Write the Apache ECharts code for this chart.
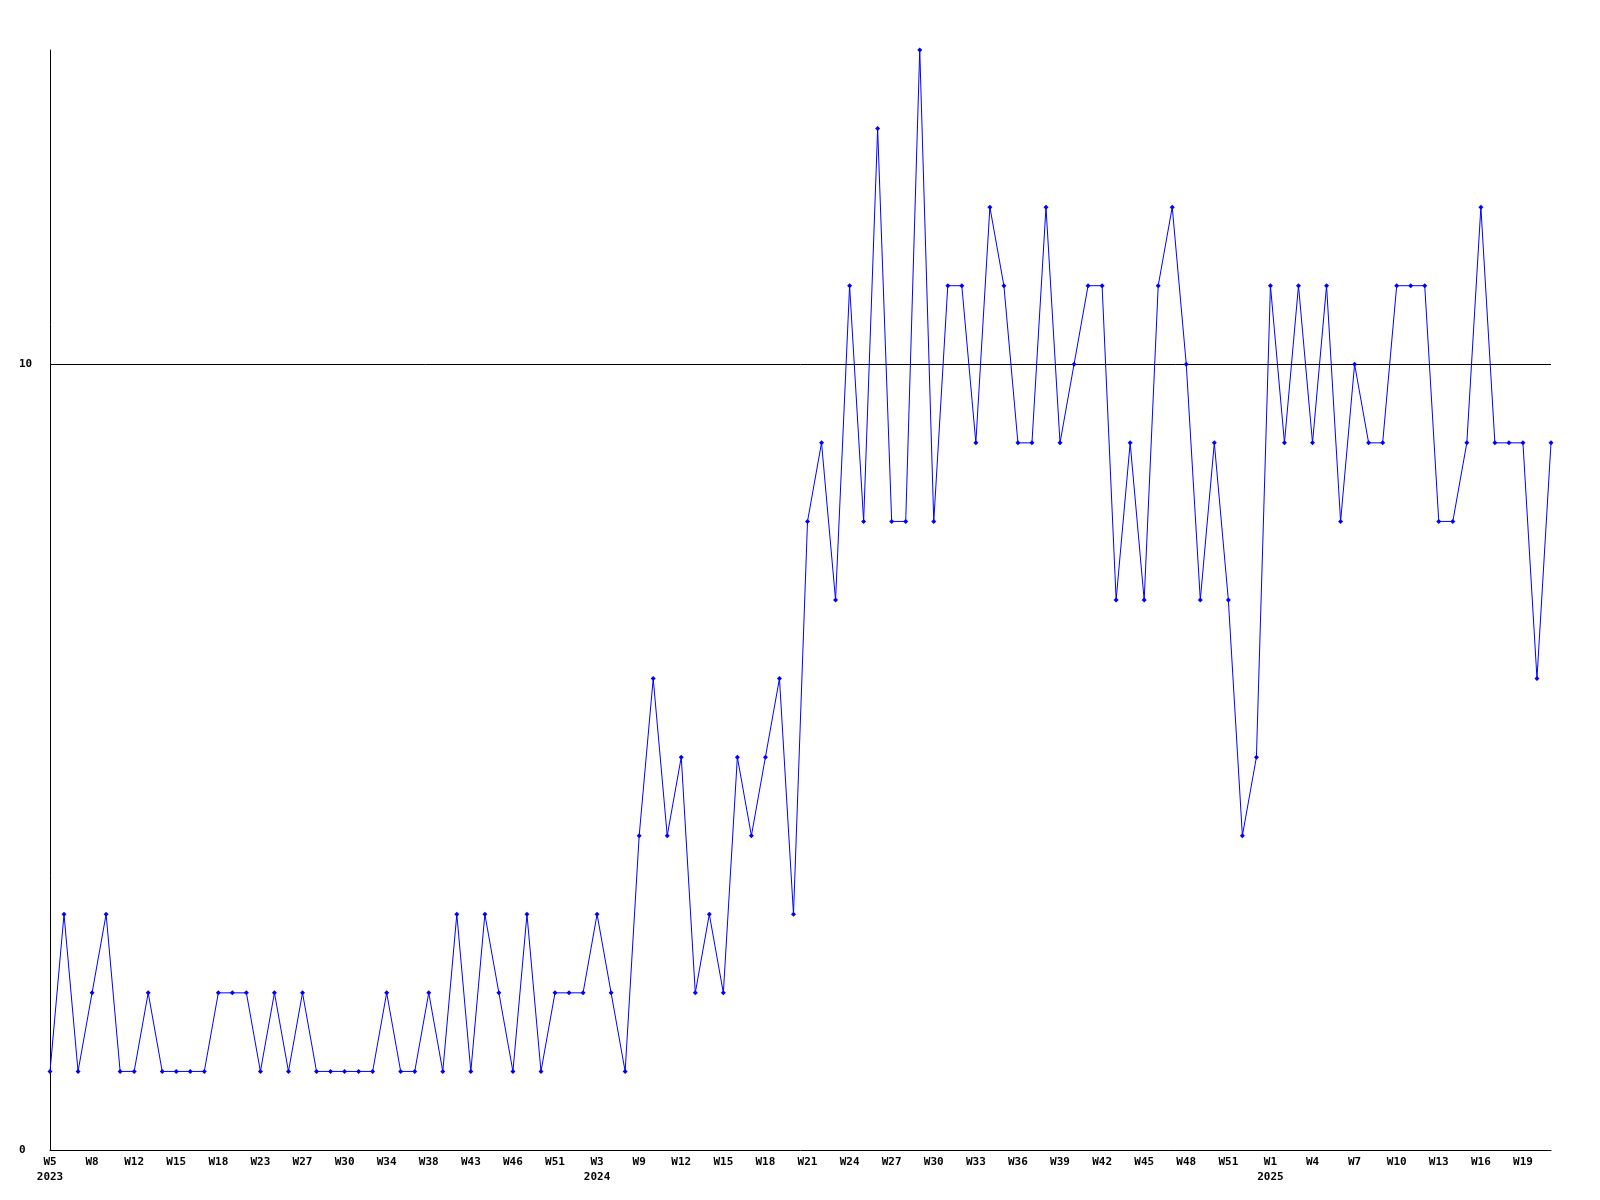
<!DOCTYPE html>
<html>
<head>
<meta charset="utf-8">
<script src="https://cdn.jsdelivr.net/npm/echarts@6/dist/echarts.min.js"></script>
<style>
html,body{margin:0;padding:0;background:#fff;}
#chart{width:1600px;height:1200px;}
</style>
</head>
<body>
<div id="chart"></div>
<script>
// ISO-week categories (year, week)
const years = [
  2023,2023,2023,2023,2023,2023,2023,2023,2023,2023,2023,2023,2023,2023,2023,2023,2023,2023,2023,2023,
  2023,2023,2023,2023,2023,2023,2023,2023,2023,2023,2023,2023,2023,2023,2023,2023,2023,2023,
  2024,2024,2024,2024,2024,2024,2024,2024,2024,2024,2024,2024,2024,2024,2024,2024,2024,2024,2024,2024,
  2024,2024,2024,2024,2024,2024,2024,2024,2024,2024,2024,2024,2024,2024,2024,2024,2024,2024,2024,2024,
  2024,2024,2024,2024,2024,2024,2024,2024,2024,
  2025,2025,2025,2025,2025,2025,2025,2025,2025,2025,2025,2025,2025,2025,2025,2025,2025,2025,2025,2025,2025
];
const weeks = [
  5,6,7,8,9,11,12,13,14,15,16,17,18,19,21,23,24,26,27,28,
  29,30,31,33,34,35,37,38,40,42,43,44,45,46,48,50,51,52,
  2,3,5,7,9,10,11,12,13,14,15,16,17,18,19,20,21,22,23,24,
  25,26,27,28,29,30,31,32,33,34,35,36,37,38,39,40,41,42,43,44,
  45,46,47,48,49,50,51,52,53,
  1,2,3,4,5,6,7,8,9,10,11,12,13,14,15,16,17,18,19,20,21
];
const values = [
  1,3,1,2,3,1,1,2,1,1,1,1,2,2,2,1,2,1,2,1,
  1,1,1,1,2,1,1,2,1,3,1,3,2,1,3,1,2,2,2,3,
  2,1,4,6,4,5,2,3,2,5,4,5,6,3,8,9,7,11,8,13,
  8,8,14,8,11,11,9,12,11,9,9,12,9,10,11,11,7,9,7,11,
  12,10,7,9,7,4,5,11,9,11,9,11,8,10,9,9,11,11,11,8,
  8,9,12,9,9,9,6,9
];
const categories = weeks.map((w, i) => years[i] + '-W' + w);

const chart = echarts.init(document.getElementById('chart'), null, {renderer: 'canvas'});
const font = 'DejaVu Sans Mono';
chart.setOption({
  animation: false,
  backgroundColor: '#ffffff',
  grid: {left: 50, right: 49, top: 50, bottom: 50, containLabel: false},
  xAxis: {
    type: 'category',
    data: categories,
    boundaryGap: false,
    axisLine: {show: true, lineStyle: {color: '#000', width: 1}},
    axisTick: {show: false},
    splitLine: {show: false},
    axisLabel: {
      interval: 2,
      margin: 5,
      color: '#000',
      fontFamily: font,
      fontWeight: 'bold',
      fontSize: 11,
      lineHeight: 15,
      formatter: function (value, index) {
        const wk = 'W' + weeks[index];
        const prevIdx = index - 3;
        if (prevIdx < 0 || years[prevIdx] !== years[index]) {
          return wk + '\n' + years[index];
        }
        return wk;
      }
    }
  },
  yAxis: {
    type: 'value',
    min: 0,
    max: 14,
    interval: 10,
    axisLine: {show: true, lineStyle: {color: '#000', width: 1}},
    axisTick: {show: false},
    splitLine: {show: true, showMinLine: false, showMaxLine: false, lineStyle: {color: '#000', width: 1}},
    axisLabel: {
      showMaxLabel: false,
      align: 'left',
      margin: 31,
      color: '#000',
      fontFamily: font,
      fontWeight: 'bold',
      fontSize: 11
    }
  },
  series: [{
    type: 'line',
    data: values,
    symbol: 'diamond',
    symbolSize: 5,
    showAllSymbol: true,
    lineStyle: {color: '#0000ff', width: 1},
    itemStyle: {color: '#0000ff'}
  }]
});
</script>
</body>
</html>
